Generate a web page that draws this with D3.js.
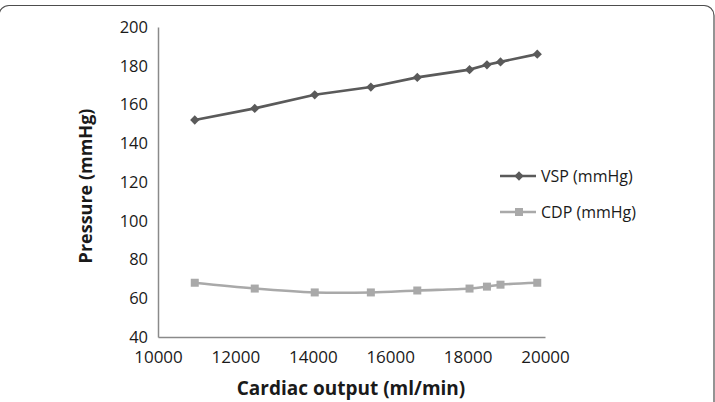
<!DOCTYPE html>
<meta charset="utf-8">
<script src="https://d3js.org/d3.v7.min.js"></script>
<style>
  body { margin: 0; background: #fff; }
  text { font-family: "Open Sans", sans-serif; fill: #1a1a1a; }
</style>
<div id="chart"></div>
<script>
// cardiac output (ml/min) and pressures
var output = [10950, 12500, 14050, 15500, 16700, 18050, 18500, 18850, 19800];
var vsp = [152, 158, 165, 169, 174, 178, 180.5, 182, 186];
var cdp = [68, 65, 63, 63, 64, 65, 66, 67, 68];
var seriesNames = ["VSP (mmHg)", "CDP (mmHg)"];
var xTicks = [10000, 12000, 14000, 16000, 18000, 20000];
var yTicks = [40, 60, 80, 100, 120, 140, 160, 180, 200];

var W = 715, H = 402;
var margin = { top: 27, right: 170, bottom: 65, left: 158 },
    width = 545 - margin.left,
    height = 337 - margin.top;

var svg = d3.select("#chart")
    .append("svg")
    .attr("width", W)
    .attr("height", H);

// outer rounded frame, sides fall just outside the picture
svg.append("rect")
    .attr("x", -1).attr("y", 5.5)
    .attr("width", 715).attr("height", 430)
    .attr("rx", 10)
    .attr("fill", "none")
    .attr("stroke", "#4d4d4d")
    .attr("stroke-width", 1.2);

var g = svg.append("g")
    .attr("transform", "translate(" + margin.left + "," + margin.top + ")");

var x = d3.scaleLinear().domain([10000, 20000]).range([0, width]);
var y = d3.scaleLinear().domain([40, 200]).range([height, 0]);

var xAxis = g.append("g")
    .attr("transform", "translate(0," + height + ")")
    .call(d3.axisBottom(x).tickValues(xTicks).tickSize(0).tickPadding(14).tickFormat(d3.format("d")));
var yAxis = g.append("g")
    .call(d3.axisLeft(y).tickValues(yTicks).tickSize(0).tickPadding(10));

[xAxis, yAxis].forEach(function(a) {
    a.select(".domain").attr("stroke", "#8a8a8a").attr("stroke-width", 1.5);
    a.selectAll("text").style("font-size", "17px").attr("fill", "#1a1a1a");
});
yAxis.selectAll("text").style("font-size", "16.5px");

var data = output.map(function(o, i) { return { o: o, vsp: vsp[i], cdp: cdp[i] }; });

var colors = ["#5a5a5a", "#a9a9a9"];

// VSP: straight segments, diamond markers
g.append("path")
    .datum(data)
    .attr("fill", "none")
    .attr("stroke", colors[0])
    .attr("stroke-width", 2.6)
    .attr("d", d3.line().x(function(d) { return x(d.o); }).y(function(d) { return y(d.vsp); }));

g.selectAll(".vsp")
    .data(data)
    .enter().append("path")
    .attr("class", "vsp")
    .attr("transform", function(d) { return "translate(" + x(d.o) + "," + y(d.vsp) + ")"; })
    .attr("d", d3.symbol().type(d3.symbolDiamond2).size(55))
    .attr("fill", colors[0]);

// CDP: smoothed line, square markers
g.append("path")
    .datum(data)
    .attr("fill", "none")
    .attr("stroke", colors[1])
    .attr("stroke-width", 2.6)
    .attr("d", d3.line().curve(d3.curveCatmullRom).x(function(d) { return x(d.o); }).y(function(d) { return y(d.cdp); }));

g.selectAll(".cdp")
    .data(data)
    .enter().append("rect")
    .attr("class", "cdp")
    .attr("x", function(d) { return x(d.o) - 4; })
    .attr("y", function(d) { return y(d.cdp) - 4; })
    .attr("width", 8).attr("height", 8)
    .attr("fill", colors[1]);

// axis titles
svg.append("text")
    .attr("x", 351).attr("y", 395)
    .attr("text-anchor", "middle")
    .style("font-size", "19px").style("font-weight", "bold")
    .text("Cardiac output (ml/min)");

svg.append("text")
    .attr("transform", "translate(92,186) rotate(-90)")
    .attr("text-anchor", "middle")
    .style("font-size", "18px").style("font-weight", "bold")
    .text("Pressure (mmHg)");

// legend
var legend = svg.append("g").attr("transform", "translate(500,176)");
seriesNames.forEach(function(name, i) {
    var row = legend.append("g").attr("transform", "translate(0," + (i * 36) + ")");
    row.append("line")
        .attr("x1", 0).attr("x2", 36)
        .attr("stroke", colors[i]).attr("stroke-width", 2.6);
    if (i === 0) {
        row.append("path")
            .attr("transform", "translate(19,0)")
            .attr("d", d3.symbol().type(d3.symbolDiamond2).size(55))
            .attr("fill", colors[i]);
    } else {
        row.append("rect")
            .attr("x", 15).attr("y", -4).attr("width", 8).attr("height", 8)
            .attr("fill", colors[i]);
    }
    row.append("text")
        .attr("x", 41).attr("dy", "0.35em")
        .style("font-size", "16px")
        .text(name);
});
</script>
